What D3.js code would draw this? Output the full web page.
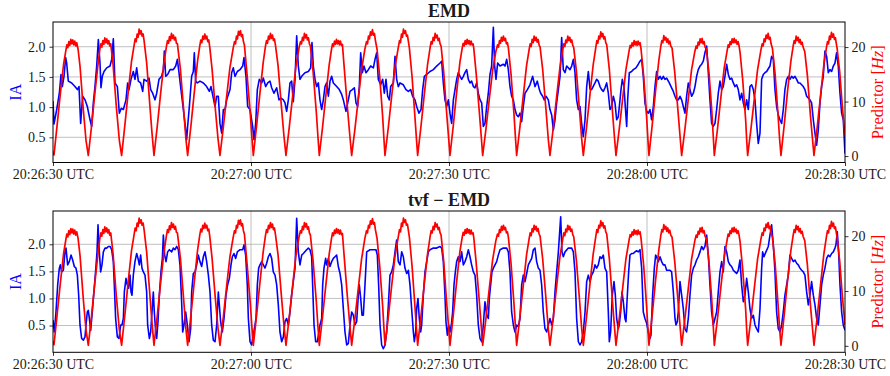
<!DOCTYPE html>
<html>
<head>
<meta charset="utf-8">
<script src="https://cdn.jsdelivr.net/npm/d3@7"></script>
<style>
  body { margin: 0; background: #fff; }
  svg text { font-family: "Liberation Serif", "Times New Roman", serif; fill: #1a1a1a; }
</style>
</head>
<body>
<svg id="chart" width="890" height="376"></svg>
<script>
// seconds after 20:26:30 UTC
var tickSeconds = [0, 30, 60, 90, 120];
var tickLabels = ["20:26:30 UTC", "20:27:00 UTC", "20:27:30 UTC", "20:28:00 UTC", "20:28:30 UTC"];
var iaTicks = [0.5, 1.0, 1.5, 2.0];
var hzTicks = [0, 10, 20];

// predictor [Hz], same in both panels: [seconds, value]
var predictor = [
  [0,0.9],[0.15,0.2],[0.6,5.4],[1.1,11.3],[1.6,16.8],[1.95,19.4],[2.1,20.4],[2.25,19.9],[2.4,21.0],[2.55,20.3],[2.7,21.4],[2.85,20.6],[3.0,21.3],[3.15,20.4],[3.3,21.1],[3.45,20.2],[3.6,20.8],[3.8,19.6],[4.1,16.4],[4.6,8.4],[5.0,2.9],
  [5.35,0.1],[5.85,5.6],[6.35,11.6],[6.85,17.2],[7.1,19.6],[7.25,20.6],[7.4,20.0],[7.55,21.2],[7.7,20.5],[7.85,21.7],[8.0,20.8],[8.15,21.5],[8.3,20.6],[8.45,21.2],[8.6,20.2],[8.75,20.6],[9.1,16.8],[9.6,9.0],[10.05,2.9],
  [10.4,0.1],[10.9,5.8],[11.4,11.8],[11.9,17.4],[12.3,20.4],[12.45,21.5],[12.6,21.0],[12.75,22.4],[12.9,21.8],[13.05,23.3],[13.2,22.4],[13.35,23.0],[13.5,22.0],[13.65,22.4],[13.8,21.2],[14.2,17.0],[14.6,10.5],[15.0,4.2],
  [15.3,0.1],[15.8,5.5],[16.3,11.4],[16.8,17.0],[17.2,20.2],[17.35,21.2],[17.5,20.7],[17.65,21.9],[17.8,21.2],[17.95,22.5],[18.1,21.6],[18.25,22.2],[18.4,21.3],[18.55,21.8],[18.7,20.7],[18.85,20.6],[19.3,16.0],[19.8,8.4],[20.15,3.0],
  [20.4,0.1],[20.9,5.6],[21.4,11.6],[21.9,17.4],[22.25,20.3],[22.4,21.3],[22.55,20.8],[22.7,22.0],[22.85,21.4],[23.0,22.4],[23.15,21.5],[23.3,22.0],[23.45,21.0],[23.6,21.3],[23.75,20.0],[24.1,16.0],[24.6,8.6],[25.0,3.2],
  [25.3,0.1],[25.8,5.2],[26.3,10.8],[26.8,16.2],[27.3,19.8],[27.5,21.0],[27.65,20.6],[27.8,22.0],[27.95,21.5],[28.1,22.9],[28.25,22.2],[28.4,23.0],[28.55,21.9],[28.7,22.3],[28.85,21.0],[29.0,20.4],[29.4,15.0],[29.9,7.6],[30.15,3.2],
  [30.35,0.1],[30.85,5.6],[31.35,11.5],[31.85,17.2],[32.2,20.2],[32.35,21.2],[32.5,20.7],[32.65,22.0],[32.8,21.4],[32.95,22.5],[33.1,21.6],[33.25,22.2],[33.4,21.2],[33.55,21.5],[33.7,20.4],[34.1,16.6],[34.6,9.2],[35.0,3.6],
  [35.3,0.1],[35.8,5.3],[36.3,10.9],[36.8,16.4],[37.3,20.0],[37.5,21.0],[37.65,20.6],[37.8,21.8],[37.95,21.2],[38.1,22.5],[38.25,21.7],[38.4,22.3],[38.55,21.3],[38.7,21.7],[38.85,20.6],[39.0,20.2],[39.4,15.6],[39.9,8.0],[40.15,3.4],
  [40.35,0.1],[40.85,5.4],[41.35,11.2],[41.85,16.8],[42.2,19.6],[42.35,20.6],[42.5,20.1],[42.65,21.1],[42.8,20.5],[42.95,21.4],[43.1,20.6],[43.25,21.2],[43.4,20.4],[43.55,21.1],[43.7,20.3],[43.85,20.5],[44.1,16.6],[44.6,9.0],[45.0,3.4],
  [45.25,0.1],[45.75,5.0],[46.25,10.4],[46.75,15.8],[47.25,19.6],[47.5,21.0],[47.65,20.6],[47.8,22.0],[47.95,21.5],[48.1,22.8],[48.25,22.2],[48.4,23.2],[48.55,22.2],[48.7,22.5],[48.85,21.2],[49.1,19.6],[49.5,14.6],[49.95,7.2],[50.15,3.0],
  [50.3,0.1],[50.8,5.2],[51.3,10.8],[51.8,16.2],[52.3,19.8],[52.5,21.2],[52.65,20.8],[52.8,22.4],[52.95,21.8],[53.1,23.3],[53.25,22.5],[53.4,23.0],[53.55,22.0],[53.7,22.2],[53.85,21.0],[54.0,19.8],[54.4,14.6],[54.85,7.0],[55.1,2.6],
  [55.25,0.1],[55.75,5.4],[56.25,11.2],[56.75,16.8],[57.15,20.0],[57.3,21.0],[57.45,20.6],[57.6,21.8],[57.75,21.2],[57.9,22.5],[58.05,21.7],[58.2,22.2],[58.35,21.2],[58.5,21.6],[58.65,20.6],[58.8,20.2],[59.2,15.4],[59.6,8.6],[59.95,3.2],
  [60.15,0.1],[60.65,5.6],[61.15,11.6],[61.65,17.2],[62.0,19.8],[62.15,20.7],[62.3,20.2],[62.45,21.2],[62.6,20.5],[62.75,21.4],[62.9,20.6],[63.05,21.2],[63.2,20.4],[63.35,21.1],[63.5,20.4],[63.65,20.6],[63.75,19.8],[64.1,15.4],[64.6,8.0],[64.9,3.4],
  [65.1,0.1],[65.6,5.0],[66.1,10.4],[66.6,15.6],[67.1,19.2],[67.35,20.4],[67.5,20.0],[67.65,21.2],[67.8,20.7],[67.95,21.8],[68.1,21.1],[68.25,22.0],[68.4,21.2],[68.55,21.6],[68.7,20.6],[68.85,20.8],[69.0,19.8],[69.4,15.0],[69.85,7.6],[70.1,2.8],
  [70.25,0.1],[70.75,5.4],[71.25,11.0],[71.75,16.6],[72.15,19.6],[72.3,20.6],[72.45,20.1],[72.6,21.4],[72.75,20.8],[72.9,22.0],[73.05,21.2],[73.2,21.8],[73.35,20.9],[73.5,21.4],[73.65,20.4],[73.8,20.0],[74.2,15.8],[74.7,8.4],[75.05,3.0],
  [75.3,0.1],[75.8,5.2],[76.3,10.8],[76.8,16.2],[77.25,19.6],[77.4,20.6],[77.55,20.1],[77.7,21.3],[77.85,20.8],[78.0,22.0],[78.15,21.2],[78.3,21.8],[78.45,20.9],[78.6,21.3],[78.75,20.3],[78.9,19.9],[79.3,15.6],[79.8,8.0],[80.1,3.2],
  [80.35,0.1],[80.85,5.4],[81.35,11.2],[81.85,16.8],[82.25,20.0],[82.4,21.2],[82.55,20.7],[82.7,22.0],[82.85,21.5],[83.0,22.8],[83.15,21.9],[83.3,22.5],[83.45,21.5],[83.6,21.9],[83.75,20.8],[83.9,20.4],[84.3,15.8],[84.75,8.4],[85.1,3.0],
  [85.3,0.1],[85.8,5.0],[86.3,10.4],[86.8,15.8],[87.3,19.4],[87.45,20.3],[87.6,19.9],[87.75,20.8],[87.9,20.2],[88.05,21.2],[88.2,20.4],[88.35,21.0],[88.5,20.3],[88.65,21.1],[88.8,20.4],[88.95,20.8],[89.1,19.6],[89.5,14.6],[89.95,7.0],[90.15,2.8],
  [90.3,0.1],[90.8,5.8],[91.3,12.0],[91.8,17.6],[92.1,20.2],[92.25,21.2],[92.4,20.8],[92.55,22.1],[92.7,21.3],[92.85,21.8],[93.0,20.9],[93.15,21.5],[93.3,20.6],[93.45,21.1],[93.6,20.2],[93.8,19.8],[94.2,15.4],[94.7,8.2],[95.05,3.0],
  [95.25,0.1],[95.75,5.0],[96.25,10.4],[96.75,15.8],[97.25,19.2],[97.45,20.2],[97.6,19.8],[97.75,20.9],[97.9,20.4],[98.05,21.5],[98.2,20.8],[98.35,21.6],[98.5,20.6],[98.65,21.0],[98.8,20.0],[99.0,19.6],[99.4,15.2],[99.8,8.6],[100.05,3.4],
  [100.2,0.1],[100.7,5.2],[101.2,10.8],[101.7,16.2],[102.15,19.4],[102.3,20.4],[102.45,20.0],[102.6,21.0],[102.75,20.5],[102.9,21.5],[103.05,20.8],[103.2,21.6],[103.35,20.8],[103.5,21.3],[103.65,20.5],[103.8,21.0],[103.95,20.2],[104.1,19.0],[104.5,14.0],[104.95,6.6],[105.1,3.0],
  [105.25,0.1],[105.75,5.0],[106.25,10.4],[106.75,15.8],[107.25,19.4],[107.45,20.6],[107.6,20.2],[107.75,21.5],[107.9,21.0],[108.05,22.2],[108.2,21.6],[108.35,22.5],[108.5,21.4],[108.65,21.8],[108.8,20.6],[109.0,19.8],[109.4,15.2],[109.85,7.6],[110.1,3.0],
  [110.3,0.1],[110.8,5.8],[111.3,12.0],[111.8,17.4],[112.15,20.2],[112.3,21.2],[112.45,20.7],[112.6,22.0],[112.75,21.2],[112.9,21.8],[113.05,20.8],[113.2,21.4],[113.35,20.5],[113.5,20.9],[113.65,20.0],[113.9,19.2],[114.3,14.8],[114.75,7.6],[115.1,2.8],
  [115.3,0.1],[115.8,5.4],[116.3,11.2],[116.8,16.8],[117.2,20.0],[117.35,21.0],[117.5,20.6],[117.65,22.0],[117.8,21.4],[117.95,22.7],[118.1,21.8],[118.25,22.4],[118.4,21.4],[118.55,21.7],[118.7,20.5],[118.8,19.8],[119.2,15.4],[119.6,9.0],[120.0,3.8]
];

// IA, EMD panel: [seconds, value]
var iaEMD = [
  [0,1.1],[0.15,0.72],[0.56,0.96],[0.96,1.23],[1.21,1.54],[1.41,1.34],[1.67,1.51],[1.92,1.82],[2.07,1.73],[2.32,1.43],[2.83,1.4],[3.33,1.34],[3.69,1.29],[3.94,1.34],[4.19,0.73],[4.49,1.18],[4.85,1.12],[5.2,1.01],[5.61,0.79],[5.86,0.68],
  [6.11,1.07],[6.36,1.34],[6.62,1.68],[6.87,2.12],[7.12,1.73],[7.27,1.32],[7.47,1.51],[7.73,1.59],[8.13,1.65],[8.64,1.68],[8.89,1.79],[9.14,2.13],[9.39,1.4],[9.75,1.34],[10.05,0.9],[10.35,0.98],[10.66,0.96],
  [11.06,1.12],[11.31,1.4],[11.52,1.29],[11.82,1.46],[12.17,1.59],[12.42,1.46],[12.68,1.65],[12.93,1.43],[13.28,1.4],[13.59,1.26],[13.79,1.46],[14.19,1.43],[14.55,1.48],[14.8,1.29],[15.1,1.23],[15.45,1.12],
  [15.71,1.23],[16.06,1.46],[16.46,1.51],[16.72,1.62],[16.87,1.93],[17.07,1.51],[17.37,1.54],[17.73,1.62],[18.23,1.62],[18.59,1.68],[18.84,1.79],[19.09,1.57],[19.39,1.29],[19.75,0.96],[20.05,0.68],[20.25,0.46],
  [20.4,0.68],[20.66,1.01],[21.01,1.51],[21.26,1.59],[21.41,1.9],[21.62,1.43],[21.87,1.4],[22.27,1.43],[22.78,1.4],[23.28,1.34],[23.69,1.26],[23.94,1.34],[24.29,1.15],[24.55,1.01],[24.8,1.18],[25.05,1.18],
  [25.3,0.73],[25.56,0.57],[25.81,0.96],[26.06,0.96],[26.31,1.12],[26.82,1.29],[27.07,1.57],[27.32,1.65],[27.58,1.51],[27.93,1.59],[28.33,1.62],[28.74,1.68],[28.94,1.82],[29.24,1.51],[29.49,1.01],[29.85,0.96],
  [30.25,0.68],[30.45,0.46],[30.71,0.73],[30.96,1.29],[31.26,1.46],[31.62,1.4],[31.87,1.48],[32.22,1.34],[32.53,1.4],[32.88,1.43],[33.13,1.32],[33.48,1.23],[33.89,1.32],[34.24,1.12],[34.55,1.15],[34.9,1.12],
  [35.15,1.07],[35.4,0.93],[35.66,1.12],[35.91,1.4],[36.16,1.43],[36.41,1.09],[36.67,1.46],[36.92,2.18],[37.17,1.68],[37.42,1.46],[37.68,1.51],[38.18,1.57],[38.69,1.59],[39.04,1.65],[39.24,2.07],[39.44,1.68],
  [39.7,1.46],[39.95,1.34],[40.2,1.4],[40.45,1.12],[40.71,0.96],[40.96,1.12],[41.21,1.34],[41.46,1.4],[41.72,1.18],[41.97,1.43],[42.22,1.51],[42.48,1.4],[42.98,1.34],[43.38,1.29],[43.74,1.21],[43.99,1.12],
  [44.39,0.93],[44.75,1.12],[45.0,1.26],[45.35,1.29],[45.66,1.32],[45.91,1.07],[46.16,1.01],[46.41,1.34],[46.62,1.9],[46.87,1.57],[47.12,1.68],[47.42,1.57],[47.78,1.62],[48.13,1.68],[48.54,1.65],[48.79,1.79],
  [49.04,1.9],[49.29,1.46],[49.65,1.37],[49.95,1.46],[50.2,1.23],[50.45,1.46],[50.71,1.18],[50.96,1.12],[51.16,1.34],[51.57,1.4],[51.82,1.84],[52.07,1.46],[52.32,1.34],[52.58,1.4],[53.08,1.37],[53.48,1.29],
  [53.84,1.26],[54.19,1.29],[54.49,1.18],[54.85,1.12],[55.1,1.01],[55.45,0.9],[55.76,0.96],[56.01,1.29],[56.26,1.51],[56.62,1.54],[57.12,1.59],[57.63,1.62],[58.13,1.68],[58.64,1.73],[58.89,1.76],[59.14,1.4],
  [59.39,1.12],[59.65,1.01],[59.9,1.12],[60.15,0.9],[60.4,0.73],[60.66,1.12],[60.91,1.29],[61.16,1.46],[61.41,1.57],[61.67,1.51],[61.92,1.46],[62.17,1.51],[62.42,1.57],[62.68,1.62],[62.93,1.46],[63.18,1.4],
  [63.43,1.43],[63.69,1.34],[63.94,1.32],[64.19,1.4],[64.44,1.23],[64.7,1.12],[64.95,1.07],[65.2,0.68],[65.45,0.73],[65.71,1.01],[65.96,1.23],[66.21,1.54],[66.46,1.68],[66.72,2.32],[66.92,1.68],[67.12,1.46],
  [67.37,1.73],[67.73,1.68],[68.23,1.71],[68.48,1.68],[68.74,1.79],[68.99,1.62],[69.24,1.34],[69.49,1.18],[69.75,1.12],[70.0,0.96],[70.25,0.87],[70.5,0.84],[70.76,0.9],[71.01,0.76],[71.26,1.01],[71.52,1.23],
  [71.87,1.29],[72.27,1.37],[72.68,1.51],[73.03,1.34],[73.38,1.43],[73.69,1.29],[73.89,1.23],[74.19,1.18],[74.44,1.12],[74.7,1.18],[75.05,1.12],[75.3,0.96],[75.56,0.87],[75.81,0.62],[76.06,0.79],[76.31,1.07],
  [76.57,1.29],[76.82,1.51],[77.07,2.15],[77.32,1.62],[77.58,1.57],[77.83,1.68],[78.33,1.62],[78.59,1.68],[78.84,1.79],[79.09,1.57],[79.34,1.12],[79.6,0.96],[79.85,1.01],[80.1,0.73],[80.35,0.51],[80.61,0.79],
  [80.86,1.34],[81.11,1.59],[81.36,1.3],[81.61,1.29],[82.12,1.4],[82.37,1.46],[82.62,1.43],[82.88,1.34],[83.13,1.29],[83.38,1.26],[83.63,1.32],[83.89,1.4],[84.14,1.23],[84.39,0.96],[84.64,1.01],[84.9,1.18],
  [85.15,1.07],[85.4,0.79],[85.65,0.84],[85.91,1.12],[86.06,1.29],[86.26,1.46],[86.51,1.34],[86.71,1.01],[86.92,0.68],[87.07,1.12],[87.32,1.57],[87.67,1.59],[87.93,1.62],[88.33,1.65],[88.68,1.71],[88.94,1.76],
  [89.19,1.79],[89.44,1.51],[89.69,1.07],[89.95,0.93],[90.2,0.9],[90.45,0.96],[90.7,0.79],[90.96,1.01],[91.21,1.34],[91.46,1.59],[91.71,1.46],[91.97,1.51],[92.22,1.46],[92.47,1.51],[92.72,1.46],[92.98,1.48],
  [93.38,1.4],[93.73,1.32],[93.99,1.26],[94.24,1.18],[94.49,1.12],[94.74,1.12],[95.0,1.18],[95.25,1.12],[95.5,1.01],[95.75,0.9],[96.0,1.18],[96.26,1.4],[96.51,1.29],[96.76,1.18],[97.02,1.23],[97.27,1.34],
  [97.52,1.51],[97.77,1.62],[98.03,1.68],[98.28,1.71],[98.53,1.76],[98.78,1.9],[99.04,2.01],[99.29,1.57],[99.54,1.12],[99.79,0.73],[100.05,0.68],[100.3,0.73],[100.55,0.96],[100.8,1.23],[101.06,1.43],[101.31,1.29],
  [101.56,1.34],[101.81,1.51],[102.07,1.71],[102.32,1.54],[102.57,1.46],[102.82,1.48],[103.08,1.4],[103.33,1.34],[103.58,1.37],[103.83,1.29],[104.09,1.12],[104.34,1.23],[104.59,1.07],[104.84,0.96],[105.1,1.12],[105.35,0.96],
  [105.6,1.34],[105.85,1.37],[106.11,1.29],[106.36,1.12],[106.61,0.73],[106.86,0.4],[107.12,0.57],[107.37,1.46],[107.62,1.54],[107.87,1.57],[108.13,1.59],[108.63,1.68],[108.88,1.84],[109.14,1.79],[109.39,1.29],[109.64,1.01],
  [109.89,0.87],[110.15,0.79],[110.4,0.73],[110.65,0.96],[110.9,1.29],[111.16,1.46],[111.41,1.51],[111.66,1.46],[111.91,1.51],[112.17,1.48],[112.42,1.51],[112.67,1.46],[112.92,1.4],[113.18,1.4],[113.43,1.37],[113.68,1.34],
  [113.93,1.29],[114.19,1.18],[114.44,1.15],[114.69,1.12],[114.94,1.07],[115.2,0.79],[115.45,0.57],[115.7,0.37],[115.95,0.62],[116.21,1.07],[116.46,1.34],[116.71,1.51],[116.96,1.93],[117.22,1.84],[117.47,1.57],[117.72,1.62],
  [117.97,1.59],[118.23,1.68],[118.48,1.73],[118.73,1.9],[118.98,1.68],[119.24,1.23],[119.49,0.9],[119.74,0.79],[120,0.23]
];

// IA, tvf - EMD panel: [seconds, value]
var iaTVF = [
  [0,0.6],[0.2,0.38],[0.45,0.75],[0.71,1.25],[0.96,1.56],[1.11,1.62],[1.31,1.49],[1.57,1.52],[1.82,1.86],[1.97,1.93],[2.22,1.62],[2.47,1.68],[2.73,1.8],[2.98,1.71],[3.23,1.59],[3.48,1.56],[3.69,1.43],[3.89,1.06],
  [4.09,0.51],[4.34,0.26],[4.6,0.23],[4.85,0.29],[5.0,0.51],[5.2,0.75],[5.35,0.78],[5.51,0.63],[5.71,0.41],[5.91,0.69],[6.16,1.06],[6.41,1.43],[6.67,1.86],[6.82,2.36],[7.02,1.86],[7.22,1.49],[7.42,1.62],[7.63,1.86],
  [7.88,1.93],[8.13,1.93],[8.38,1.96],[8.64,1.96],[8.89,1.9],[9.14,1.68],[9.29,1.25],[9.49,0.63],[9.75,0.29],[10.0,0.26],[10.25,0.51],[10.45,0.51],[10.66,0.63],[10.81,1.12],[11.06,1.37],[11.26,1.25],[11.46,1.19],[11.67,1.43],
  [11.82,1.12],[11.97,1.06],[12.17,1.43],[12.42,1.68],[12.68,1.83],[12.88,1.74],[13.08,1.62],[13.28,1.8],[13.48,1.56],[13.69,1.49],[13.94,1.43],[14.19,1.12],[14.34,0.51],[14.6,0.26],[14.8,0.38],[15.0,0.75],[15.2,1.12],[15.35,0.75],
  [15.56,0.38],[15.71,0.26],[15.91,0.57],[16.11,1.06],[16.36,1.49],[16.57,1.74],[16.72,2.17],[16.92,1.8],[17.12,1.68],[17.37,1.86],[17.63,1.9],[17.98,1.86],[18.23,1.93],[18.48,1.9],[18.74,1.96],[18.99,1.9],[19.24,1.62],[19.49,0.94],
  [19.65,0.38],[19.85,0.51],[20.1,0.75],[20.35,0.51],[20.61,0.2],[20.86,0.44],[21.01,1.12],[21.26,1.46],[21.52,1.49],[21.77,1.62],[22.02,1.8],[22.27,1.68],[22.53,1.59],[22.78,1.77],[23.03,1.86],[23.28,1.68],[23.54,1.43],[23.79,1.12],
  [24.04,0.51],[24.29,0.23],[24.55,0.2],[24.8,0.51],[25.05,1.12],[25.2,0.88],[25.4,0.57],[25.66,0.38],[25.91,0.63],[26.21,1.06],[26.46,1.25],[26.72,1.37],[26.97,1.62],[27.17,1.77],[27.42,1.83],[27.68,1.74],[27.93,1.86],[28.33,1.9],
  [28.74,1.9],[28.94,1.99],[29.19,1.8],[29.44,1.25],[29.6,0.63],[29.85,0.2],[30.1,0.14],[30.35,0.32],[30.61,0.51],[30.76,0.63],[30.96,1.25],[31.16,1.56],[31.36,1.62],[31.62,1.68],[31.87,1.62],[32.12,1.56],[32.37,1.65],[32.63,1.77],
  [32.88,1.83],[33.13,1.74],[33.38,1.49],[33.64,1.43],[33.89,1.25],[34.14,0.88],[34.39,0.38],[34.65,0.2],[34.9,0.29],[35.15,0.57],[35.4,0.63],[35.66,0.51],[35.91,0.75],[36.16,1.06],[36.41,1.31],[36.67,1.56],[36.92,2.48],[37.17,1.86],
  [37.42,1.62],[37.68,1.8],[37.93,1.83],[38.43,1.9],[38.69,1.93],[38.94,1.9],[39.19,1.77],[39.34,1.25],[39.55,0.51],[39.8,0.2],[40.05,0.2],[40.3,0.38],[40.45,0.51],[40.71,0.63],[40.86,1.25],[41.06,1.56],[41.31,1.74],[41.46,1.62],
  [41.72,1.74],[41.97,1.59],[42.22,1.68],[42.48,1.74],[42.73,1.77],[42.98,1.8],[43.23,1.59],[43.49,1.46],[43.74,1.25],[43.99,0.81],[44.24,0.38],[44.5,0.14],[44.75,0.17],[45.0,0.51],[45.25,0.75],[45.5,0.69],[45.76,0.51],[46.01,0.57],
  [46.26,1.06],[46.41,1.25],[46.62,1.0],[46.82,0.69],[47.02,0.69],[47.27,1.25],[47.53,1.86],[48.03,1.9],[48.54,1.9],[48.94,1.9],[49.14,1.8],[49.34,1.25],[49.55,0.51],[49.8,0.14],[50.05,0.07],[50.3,0.14],[50.56,0.38],[50.81,0.88],
  [51.06,1.43],[51.31,1.49],[51.57,1.62],[51.82,1.86],[52.07,2.08],[52.32,1.68],[52.58,1.62],[52.83,1.86],[53.08,1.77],[53.33,1.56],[53.59,1.46],[53.84,1.52],[54.09,1.25],[54.34,0.81],[54.6,0.38],[54.75,0.2],[54.95,0.38],[55.1,0.81],
  [55.3,1.0],[55.5,0.63],[55.71,0.38],[55.86,0.51],[56.11,1.06],[56.36,1.49],[56.62,1.68],[56.87,1.86],[57.12,1.9],[57.63,1.93],[58.13,1.93],[58.64,1.96],[58.89,1.93],[59.14,1.68],[59.39,1.06],[59.54,0.57],[59.75,0.32],[59.95,0.51],
  [60.15,0.38],[60.35,0.51],[60.55,0.75],[60.76,1.25],[60.96,1.49],[61.16,1.68],[61.41,1.77],[61.67,1.68],[61.92,1.86],[62.17,1.62],[62.42,1.68],[62.68,1.77],[62.93,1.9],[63.18,1.77],[63.43,1.62],[63.69,1.49],[63.94,1.43],[64.19,1.06],
  [64.44,0.51],[64.7,0.26],[64.95,0.2],[65.2,0.51],[65.45,0.94],[65.71,0.69],[65.96,0.63],[66.11,1.0],[66.31,1.25],[66.51,1.49],[66.72,1.56],[66.97,1.62],[67.22,1.68],[67.47,1.8],[67.73,1.9],[68.23,1.93],[68.74,1.93],[68.99,1.86],
  [69.24,1.49],[69.49,0.75],[69.75,0.51],[70.0,0.38],[70.25,0.51],[70.5,0.48],[70.76,0.63],[71.01,1.25],[71.26,1.43],[71.52,1.31],[71.77,1.46],[72.02,1.62],[72.27,1.68],[72.53,1.74],[72.78,1.9],[73.03,1.93],[73.28,1.68],[73.53,1.56],
  [73.79,1.52],[74.04,1.25],[74.29,0.75],[74.54,0.44],[74.8,0.38],[75.05,0.51],[75.3,0.63],[75.56,0.51],[75.81,0.63],[76.06,1.12],[76.31,1.49],[76.57,1.86],[76.92,2.51],[77.12,1.86],[77.32,1.77],[77.58,1.86],[78.08,1.93],[78.59,1.93],
  [78.84,1.86],[79.09,1.49],[79.34,0.63],[79.6,0.2],[79.85,0.14],[80.1,0.2],[80.35,0.38],[80.61,0.75],[80.86,1.31],[81.11,1.43],[81.36,1.31],[81.61,1.43],[81.87,1.49],[82.12,1.62],[82.37,1.56],[82.62,1.62],[82.88,1.77],[83.13,1.74],
  [83.38,1.8],[83.63,1.56],[83.89,1.49],[84.14,0.75],[84.29,0.2],[84.49,0.38],[84.74,1.06],[85.0,1.31],[85.2,1.06],[85.4,0.63],[85.65,0.44],[85.8,0.51],[86.01,0.75],[86.21,1.12],[86.41,0.94],[86.66,0.63],[86.81,0.57],[87.02,1.06],
  [87.22,1.49],[87.42,1.8],[87.67,1.83],[87.93,1.83],[88.18,1.86],[88.43,1.88],[88.68,1.86],[88.94,1.9],[89.19,1.56],[89.44,0.75],[89.69,0.63],[89.95,0.54],[90.2,0.38],[90.45,0.26],[90.6,0.32],[90.85,1.06],[91.11,1.56],[91.31,1.8],
  [91.46,1.77],[91.71,1.68],[91.97,1.77],[92.22,1.68],[92.47,1.62],[92.72,1.62],[92.98,1.52],[93.23,1.52],[93.48,1.52],[93.73,1.49],[93.99,1.12],[94.24,0.63],[94.39,0.51],[94.59,0.57],[94.74,0.75],[95.0,1.31],[95.25,1.06],[95.5,0.81],
  [95.75,0.44],[96.0,0.38],[96.26,0.63],[96.51,1.06],[96.76,1.43],[97.02,1.56],[97.27,1.62],[97.52,1.71],[97.77,1.77],[98.03,1.86],[98.28,1.96],[98.53,1.9],[98.78,1.96],[99.04,2.17],[99.29,1.8],[99.54,1.25],[99.79,0.75],[100.05,0.51],
  [100.3,0.63],[100.55,0.75],[100.8,1.12],[101.06,1.49],[101.31,1.68],[101.56,1.49],[101.81,1.96],[102.07,1.86],[102.32,1.68],[102.57,1.62],[102.82,1.59],[103.08,1.52],[103.33,1.49],[103.58,1.46],[103.83,1.52],[104.09,1.71],[104.34,1.25],[104.59,0.94],
  [104.84,1.06],[105.1,1.37],[105.35,1.12],[105.6,0.81],[105.85,0.63],[106.11,0.69],[106.36,0.51],[106.61,0.44],[106.86,0.38],[107.12,0.81],[107.37,1.56],[107.52,1.86],[107.72,1.77],[108.02,1.86],[108.38,1.96],[108.63,2.17],[108.88,2.36],[109.14,1.99],
  [109.39,1.49],[109.64,0.75],[109.89,0.44],[110.15,0.38],[110.4,0.51],[110.65,0.75],[110.9,1.06],[111.16,1.25],[111.41,1.43],[111.66,1.8],[111.91,1.74],[112.17,1.68],[112.42,1.71],[112.67,1.65],[112.92,1.62],[113.18,1.56],[113.43,1.52],[113.68,1.49],
  [113.93,1.43],[114.19,1.12],[114.44,0.88],[114.69,1.06],[114.94,1.31],[115.2,1.06],[115.45,0.88],[115.7,0.63],[115.95,0.51],[116.21,0.88],[116.46,1.25],[116.71,1.43],[116.96,1.56],[117.22,1.74],[117.47,1.8],[117.72,1.77],[117.97,1.83],[118.23,1.86],
  [118.48,1.93],[118.63,1.99],[118.83,2.23],[119.03,1.86],[119.24,1.25],[119.49,0.75],[119.74,0.51],[120,0.41]
];

var panelTitles = ["EMD", "tvf \u2212 EMD"];
var panelIA = [iaEMD, iaTVF];

var margin = { left: 53, right: 45 };
var width = 890 - margin.left - margin.right;
var panels = [
  { top: 22, bottom: 162.5, iaDomain: [0.083, 2.409] },
  { top: 211, bottom: 352.3, iaDomain: [0.005, 2.615] }
];
var hzDomain = [-1.18, 24.6];

var svg = d3.select("#chart");

var x = d3.scaleLinear()
  .domain([0, 120])
  .range([margin.left, margin.left + width]);

panels.forEach(function (p, i) {
  var yIA = d3.scaleLinear().domain(p.iaDomain).range([p.bottom, p.top]);
  var yHz = d3.scaleLinear().domain(hzDomain).range([p.bottom, p.top]);
  var g = svg.append("g");

  g.append("clipPath").attr("id", "clip" + i)
    .append("rect")
    .attr("x", margin.left).attr("y", p.top)
    .attr("width", width).attr("height", p.bottom - p.top);

  // grid
  g.append("g").selectAll("line").data(tickSeconds.slice(1, -1)).enter().append("line")
    .attr("x1", function (d) { return x(d); }).attr("x2", function (d) { return x(d); })
    .attr("y1", p.top).attr("y2", p.bottom)
    .style("stroke", "#b0b0b0").style("stroke-width", 0.8);
  g.append("g").selectAll("line").data(iaTicks).enter().append("line")
    .attr("x1", margin.left).attr("x2", margin.left + width)
    .attr("y1", function (d) { return yIA(d); }).attr("y2", function (d) { return yIA(d); })
    .style("stroke", "#b0b0b0").style("stroke-width", 0.8);

  var lineIA = d3.line()
    .x(function (d) { return x(d[0]); })
    .y(function (d) { return yIA(d[1]); });
  var lineHz = d3.line()
    .x(function (d) { return x(d[0]); })
    .y(function (d) { return yHz(d[1]); });

  g.append("path").datum(panelIA[i])
    .attr("clip-path", "url(#clip" + i + ")")
    .attr("d", lineIA)
    .style("fill", "none").style("stroke", "#0000ff").style("stroke-width", 1.6)
    .style("stroke-linejoin", "round");

  g.append("path").datum(predictor)
    .attr("clip-path", "url(#clip" + i + ")")
    .attr("d", lineHz)
    .style("fill", "none").style("stroke", "#ff0000").style("stroke-width", 1.7)
    .style("stroke-linejoin", "round");

  // axes
  var xAxis = d3.axisBottom(x).tickValues(tickSeconds).tickSize(3.5).tickPadding(3)
    .tickFormat(function (d, k) { return tickLabels[k]; });
  var gx = g.append("g").attr("transform", "translate(0," + p.bottom + ")").call(xAxis);

  var gl = g.append("g").attr("transform", "translate(" + margin.left + ",0)")
    .call(d3.axisLeft(yIA).tickValues(iaTicks).tickSize(3.5).tickPadding(4)
      .tickFormat(d3.format(".1f")));

  var gr = g.append("g").attr("transform", "translate(" + (margin.left + width) + ",0)")
    .call(d3.axisRight(yHz).tickValues(hzTicks).tickSize(3.5).tickPadding(3));

  [gx, gl, gr].forEach(function (a) {
    a.select(".domain").remove();
    a.selectAll("line").style("stroke", "#000").style("stroke-width", 0.8);
    a.selectAll("text").style("font-size", "14px").style("fill", "#1a1a1a")
      .style("font-family", "'Liberation Serif', serif");
  });

  g.append("rect")
    .attr("x", margin.left).attr("y", p.top)
    .attr("width", width).attr("height", p.bottom - p.top)
    .style("fill", "none").style("stroke", "#000").style("stroke-width", 1);

  // titles and labels
  g.append("text")
    .attr("x", margin.left + width / 2).attr("y", p.top - 5.5)
    .attr("text-anchor", "middle")
    .style("font-size", "18px").style("font-weight", "bold")
    .text(panelTitles[i]);

  var mid = (p.top + p.bottom) / 2;
  g.append("text")
    .attr("transform", "translate(20.5," + mid + ") rotate(-90)")
    .attr("text-anchor", "middle")
    .style("font-size", "16px").style("fill", "#0000ff")
    .text("IA");

  var pl = g.append("text")
    .attr("transform", "translate(883," + mid + ") rotate(-90)")
    .attr("text-anchor", "middle")
    .style("font-size", "16.5px").style("fill", "#ff0000");
  pl.append("tspan").style("fill", "#ff0000").text("Predictor [");
  pl.append("tspan").style("fill", "#ff0000").style("font-style", "italic").text("Hz");
  pl.append("tspan").style("fill", "#ff0000").text("]");
});
</script>
</body>
</html>
